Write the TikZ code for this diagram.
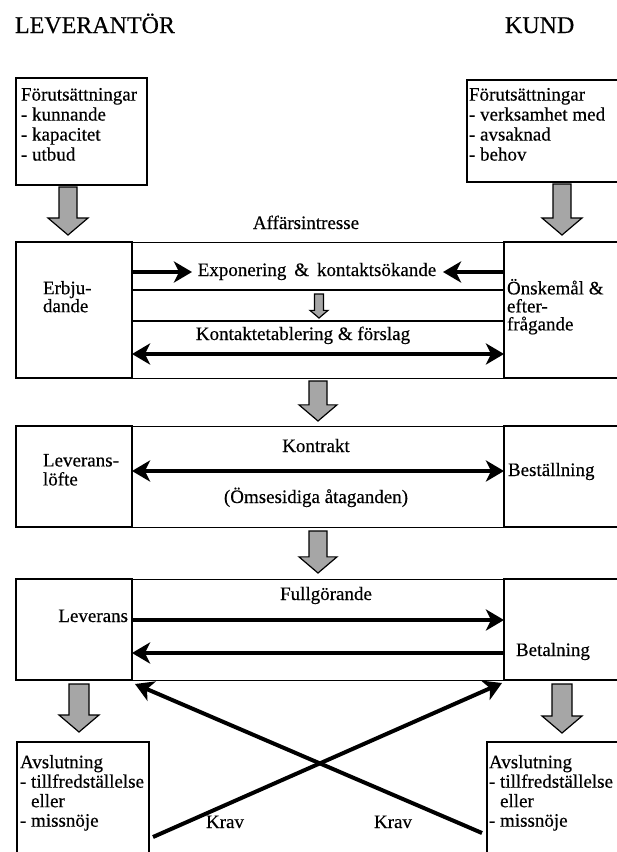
\documentclass[tikz,border=0pt]{standalone}
\usepackage{fontspec}
\setmainfont{Liberation Serif}[FakeBold=0.4]
\usetikzlibrary{arrows.meta}

\tikzset{
  box/.style={draw,line width=1.3pt,inner sep=0pt,outer sep=0pt,anchor=north west},
  txt/.style={inner sep=0pt,outer sep=0pt,align=left,anchor=north west},
  lbl/.style={inner sep=0pt,outer sep=0pt,anchor=base},
  title/.style={lbl,anchor=base west,font=\fontsize{24}{28}\selectfont},
  bigarrow/.style={line width=4pt,-{Stealth[length=18pt,width=21pt,inset=5pt]}},
  bigboth/.style={line width=4pt,{Stealth[length=18pt,width=21pt,inset=5pt]}-{Stealth[length=18pt,width=21pt,inset=5pt]}},
  grayarr/.style={fill=black!35,draw=black,line width=1.2pt,line join=miter}
}
\newcommand\grayarrow[5]{%
  \filldraw[grayarr] (#1-#4,#2) -- (#1+#4,#2) -- (#1+#4,#3-0.85*#5) -- (#1+#5,#3-0.85*#5)
    -- (#1,#3) -- (#1-#5,#3-0.85*#5) -- (#1-#4,#3-0.85*#5) -- cycle;}

\begin{document}
\begin{tikzpicture}[x=1pt,y=-1pt,font=\fontsize{19}{20}\selectfont]
\clip (0,0) rectangle (617,852);
\node[title] (lev) at (15,33) {LEVERANTÖR};
\node[title] (kund) at (505,33) {KUND};

\node[box,minimum width=131pt,minimum height=107pt] (levpre) at (16,78) {};
\node[box,minimum width=153pt,minimum height=102pt] (kundpre) at (467,80) {};
\node[txt] (levpretxt) at (21,88) {Förutsättningar\\- kunnande\\- kapacitet\\- utbud};
\node[txt] (kundpretxt) at (469,88) {Förutsättningar\\- verksamhet med\\- avsaknad\\- behov};
\grayarrow{68}{187}{235}{9}{20}
\grayarrow{562}{184}{235}{9}{20}

\node[lbl] (affint) at (306,229) {Affärsintresse};
\node[box,minimum width=116pt,minimum height=136pt] (erb) at (16,242) {};
\node[box,line width=1pt,minimum width=372pt,minimum height=136pt] (aff) at (132,242) {};
\node[box,minimum width=116pt,minimum height=136pt] (onsk) at (504,242) {};
\draw[line width=1.2pt] (aff.west |- 0,290) -- (aff.east |- 0,290);
\draw[line width=1.2pt] (aff.west |- 0,321) -- (aff.east |- 0,321);
\node[txt,font=\fontsize{19}{18}\selectfont] (erbtxt) at (43,281) {Erbju-\\dande};
\node[txt,font=\fontsize{19}{18}\selectfont] (onsktxt) at (507,279) {Önskemål \&\\efter-\\frågande};
\node[lbl] (expo) at (317,276) {Exponering \,\&\, kontaktsökande};
\draw[bigarrow] (erb.east |- 0,272) -- (192,272);
\draw[bigarrow] (onsk.west |- 0,272) -- (443,272);
\grayarrow{319}{294}{318}{4.5}{9}
\node[lbl] (kontakt) at (303,340) {Kontaktetablering \& förslag};
\draw[bigboth] (erb.east |- 0,354) -- (onsk.west |- 0,354);
\grayarrow{318}{381}{421}{9}{19}

\node[box,minimum width=116pt,minimum height=101pt] (lof) at (16,426) {};
\node[box,line width=1pt,minimum width=372pt,minimum height=101pt] (kontr) at (132,426) {};
\node[box,minimum width=116pt,minimum height=101pt] (best) at (504,426) {};
\node[lbl] (kontrtxt) at (316,452) {Kontrakt};
\node[lbl] (omses) at (316,503) {(Ömsesidiga åtaganden)};
\node[txt,font=\fontsize{19}{19}\selectfont] (loftxt) at (43,454) {Leverans-\\löfte};
\node[lbl,anchor=base west] (besttxt) at (508,476) {Beställning};
\draw[bigboth] (lof.east |- 0,471) -- (best.west |- 0,471);
\grayarrow{318}{531}{573}{9}{19}

\node[box,minimum width=116pt,minimum height=101pt] (levr) at (16,579) {};
\node[box,line width=1pt,minimum width=372pt,minimum height=101pt] (fullg) at (132,579) {};
\node[box,minimum width=116pt,minimum height=101pt] (betal) at (504,579) {};
\node[lbl] (fulltxt) at (326,600) {Fullgörande};
\node[lbl,anchor=base east] (levrtxt) at (128,622) {Leverans};
\node[lbl,anchor=base west] (betaltxt) at (516,656) {Betalning};
\draw[bigarrow] (levr.east |- 0,620) -- (betal.west |- 0,620);
\draw[bigarrow] (betal.west |- 0,653) -- (levr.east |- 0,653);
\grayarrow{79}{684}{732}{10}{20}
\grayarrow{562}{684}{733}{10}{20}

\node[box,minimum width=132pt,minimum height=130pt] (levavs) at (17,742) {};
\node[box,minimum width=133pt,minimum height=130pt] (kundavs) at (487,742) {};
\node[txt,font=\fontsize{19}{19.5}\selectfont] (levavstxt) at (20,755) {Avslutning\\- tillfredställelse\\\phantom{- }eller\\- missnöje};
\node[txt,font=\fontsize{19}{19.5}\selectfont] (kundavstxt) at (489,755) {Avslutning\\- tillfredställelse\\\phantom{- }eller\\- missnöje};
\draw[bigarrow] (153,837) -- ([shift={(-2,3)}]fullg.south east);
\draw[bigarrow] (482,833) -- ([shift={(3,4)}]fullg.south west);
\node[lbl] (krav1) at (225,828) {Krav};
\node[lbl] (krav2) at (393,828) {Krav};
\end{tikzpicture}
\end{document}
